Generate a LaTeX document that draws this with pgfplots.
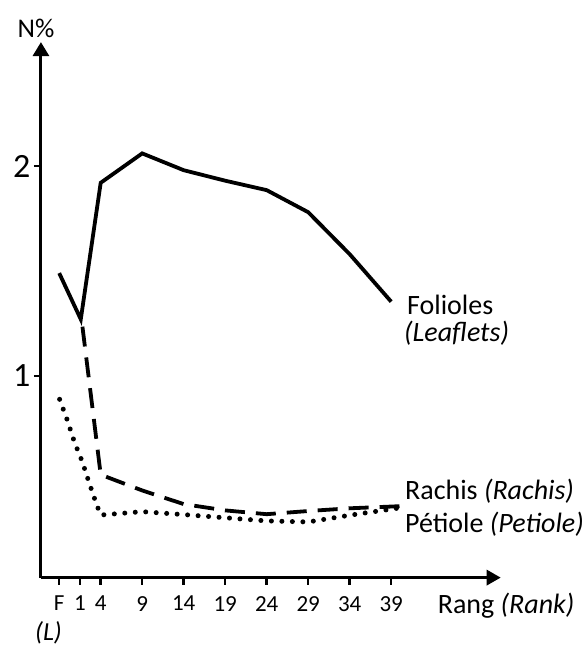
\documentclass[border=0pt]{standalone}
\usepackage{pgfplots}
\pgfplotsset{compat=1.18}
\usetikzlibrary{arrows.meta}
\usepackage{fontspec}
\setmainfont{Carlito}

\begin{document}
\begin{tikzpicture}
\begin{axis}[
  scale only axis, width=459.8pt, height=535.5pt,
  xmin=-3.2, xmax=52.2, ymin=0.04, ymax=2.59,
  axis x line=bottom, axis y line=left,
  axis line style={line width=3pt},
  x axis line style={-{Triangle[width=15pt,length=14pt]}},
  y axis line style={-{Triangle[width=16pt,length=14pt]}},
  xtick={-1,1.5,4,9,14,19,24,29,34,39},
  xticklabels={F,1,4,9,14,19,24,29,34,39},
  ytick={1,2},
  tick align=outside,
  major tick length=7pt,
  tick style={line width=2.5pt, black},
  xticklabel style={font=\fontsize{23}{23}\selectfont, yshift=-8pt},
  yticklabel style={font=\fontsize{34}{34}\selectfont},
  /pgf/number format/assume math mode=true,
  clip=false,
]
% Folioles (Leaflets)
\addplot[black, line width=3.8pt] coordinates {
  (-1,1.49) (1.6,1.27) (4,1.92) (9,2.06) (14,1.98) (19,1.93) (24,1.885) (29,1.78) (34,1.58) (39,1.354)
};
% Rachis
\addplot[black, line width=3.8pt, dash pattern=on 20pt off 11pt] coordinates {
  (1.8,1.235) (4,0.53) (9,0.455) (14,0.39) (19,0.36) (24,0.342) (29,0.357) (34,0.37) (40,0.38)
};
% Petiole
\addplot[black, line width=5pt, line cap=round, dash pattern=on 0pt off 10.5pt] coordinates {
  (-0.95,0.889) (0,0.787) (0.82,0.687) (1.78,0.592) (2.63,0.489) (3.52,0.386) (4,0.338)
  (9,0.354) (14,0.34) (19,0.325) (24,0.31) (29,0.305) (34,0.337) (39.7,0.37)
};

\node[anchor=center, font=\fontsize{27}{27}\selectfont] at (axis cs:-3.8,2.657) {N\%};
\node[anchor=base west, inner sep=0pt, font=\fontsize{28}{28}\selectfont] at (axis cs:40.9,1.295) {Folioles};
\node[anchor=base west, inner sep=0pt, font=\fontsize{28}{28}\selectfont\itshape] at (axis cs:40.54,1.162) {(Leaflets)};
\node[anchor=base west, inner sep=0pt, font=\fontsize{28}{28}\selectfont] at (axis cs:40.66,0.414) {Rachis \textit{(Rachis)}};
\node[anchor=base west, inner sep=0pt, font=\fontsize{28}{28}\selectfont] at (axis cs:40.66,0.257) {Pétiole \textit{(Petiole)}};
\node[anchor=base west, inner sep=0pt, font=\fontsize{28}{28}\selectfont] at (axis cs:44.6,-0.129) {Rang \textit{(Rank)}};
\node[anchor=base west, inner sep=0pt, font=\fontsize{26}{26}\selectfont\itshape] at (axis cs:-3.92,-0.258) {(L)};

\coordinate (bl) at (axis cs:-8.133,-0.3);
\coordinate (tr) at (axis cs:62.11,2.7905);
\end{axis}
\pgfresetboundingbox
\path (bl) rectangle (tr);
\end{tikzpicture}
\end{document}
